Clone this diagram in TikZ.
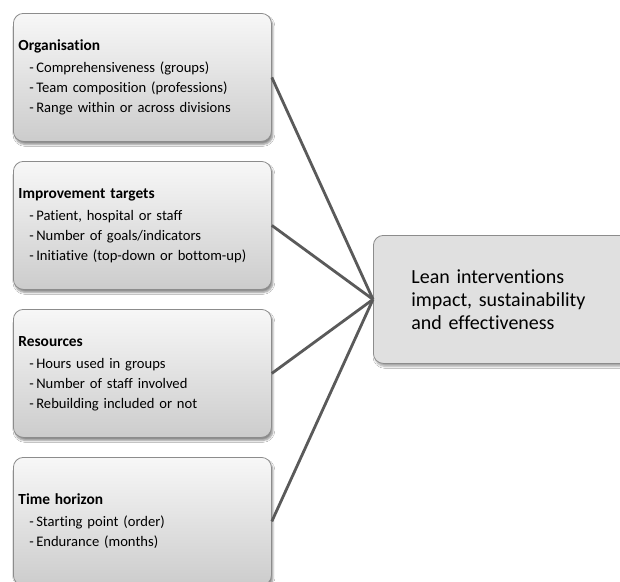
\documentclass[tikz,border=0pt]{standalone}
\usepackage{fontspec}
\setmainfont{Carlito}[Ligatures=NoCommon]
\usetikzlibrary{shadows.blur}
\definecolor{linegray}{HTML}{5A5A5A}
\definecolor{edgegray}{HTML}{8C8C8C}
\tikzset{
  lbox/.style={draw=edgegray, line width=0.8pt, rounded corners=10pt,
    top color=white!97!black, bottom color=white!80!black,
    minimum width=258pt, minimum height=128pt, text width=248pt,
    inner xsep=5pt, inner ysep=0pt, align=left, anchor=north west,
    blur shadow={shadow xshift=1.5pt, shadow yshift=-3pt, shadow blur steps=6, shadow opacity=45},
    font=\fontsize{14.6}{20}\selectfont},
  rbox/.style={draw=edgegray, line width=0.8pt, rounded corners=10pt,
    fill=white!88!black, minimum width=270pt, minimum height=128pt,
    text width=194pt, inner xsep=38pt, align=left, anchor=north west,
    blur shadow={shadow xshift=1.5pt, shadow yshift=-3pt, shadow blur steps=6, shadow opacity=35},
    font=\fontsize{20}{23}\selectfont},
  conn/.style={draw=linegray, line width=2.8pt}
}
\newcommand{\itm}[1]{\hspace*{11pt}-\,#1}
\newcommand{\ttl}[1]{{\fontsize{15.4}{20}\selectfont\bfseries #1}\\[2pt]}
\begin{document}
\begin{tikzpicture}[x=1pt,y=-1pt]
\useasboundingbox (0,0) rectangle (620,581);
\clip (0,0) rectangle (620,581);
\fill[white] (0,0) rectangle (620,581);
\node[lbox] (org) at (13,13) {\ttl{Organisation}\itm{Comprehensiveness (groups)}\\\itm{Team composition (professions)}\\\itm{Range within or across divisions}};
\node[lbox] (imp) at (13,161) {\ttl{Improvement targets}\itm{Patient, hospital or staff}\\\itm{Number of goals/indicators}\\\itm{Initiative (top-down or bottom-up)}};
\node[lbox] (res) at (13,309) {\ttl{Resources}\itm{Hours used in groups}\\\itm{Number of staff involved}\\\itm{Rebuilding included or not}};
\node[lbox] (tim) at (13,457) {\ttl{Time horizon}\itm{Starting point (order)}\\\itm{Endurance (months)}};
\node[rbox] (lean) at (373,235) {Lean interventions\\impact, sustainability\\and effectiveness};
\draw[conn] (org.east) -- (lean.west);
\draw[conn] (imp.east) -- (lean.west);
\draw[conn] (res.east) -- (lean.west);
\draw[conn] (tim.east) -- (lean.west);
\end{tikzpicture}
\end{document}
